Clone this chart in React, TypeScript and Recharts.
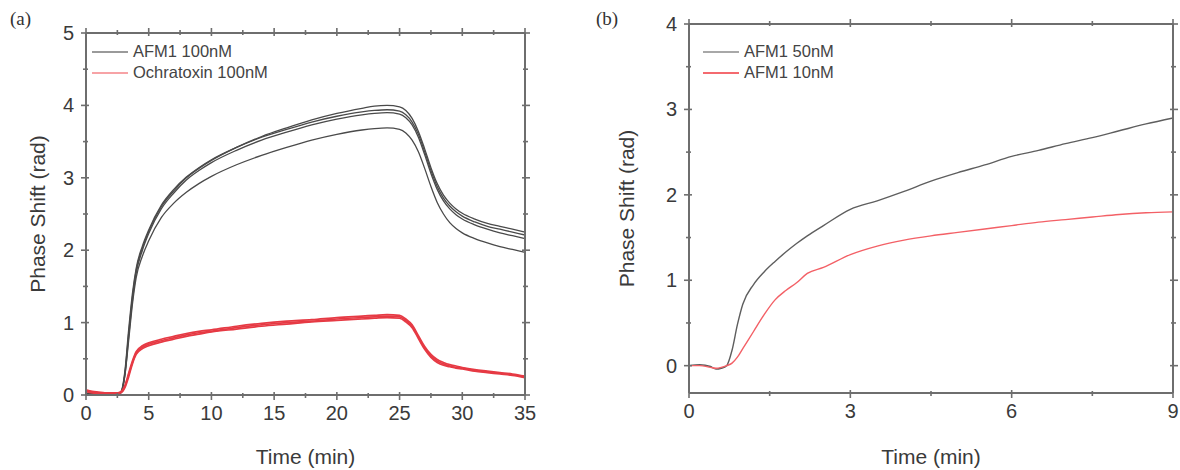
import React from 'react';
import { LineChart, Line, XAxis, YAxis, Legend } from 'recharts';

// panel (a): binding curves, 35 min run
const timeA = [0, 0.5, 1, 1.5, 2, 2.5, 2.8, 3.1, 3.4, 3.7, 4, 4.5, 5, 6, 7, 8, 9, 10, 12, 14, 16, 18, 20, 22, 23, 24, 25, 25.5, 26, 26.5, 27, 27.5, 28, 28.5, 29, 29.5, 30, 31, 32, 33, 34, 35];
const afmRun1 = [0.02, 0.02, 0.01, 0.01, 0.01, 0.01, 0.04, 0.3, 0.85, 1.35, 1.72, 2.03, 2.26, 2.6, 2.82, 3.0, 3.13, 3.24, 3.42, 3.57, 3.69, 3.8, 3.89, 3.96, 3.99, 4.0, 3.98, 3.93, 3.82, 3.64, 3.4, 3.14, 2.92, 2.76, 2.65, 2.57, 2.51, 2.43, 2.37, 2.33, 2.29, 2.25];
const afmRun2 = [0.03, 0.02, 0.02, 0.01, 0.01, 0.02, 0.05, 0.33, 0.9, 1.4, 1.75, 2.06, 2.28, 2.62, 2.84, 3.01, 3.14, 3.25, 3.42, 3.56, 3.67, 3.77, 3.85, 3.91, 3.93, 3.94, 3.92, 3.87, 3.77, 3.6, 3.36, 3.1, 2.88, 2.72, 2.61, 2.53, 2.47, 2.39, 2.33, 2.29, 2.25, 2.21];
const afmRun3 = [0.01, 0.01, 0.01, 0.01, 0.01, 0.01, 0.03, 0.27, 0.8, 1.3, 1.68, 2.0, 2.23, 2.57, 2.79, 2.97, 3.1, 3.21, 3.38, 3.52, 3.63, 3.73, 3.81, 3.87, 3.89, 3.9, 3.88, 3.83, 3.73, 3.56, 3.32, 3.06, 2.84, 2.68, 2.57, 2.49, 2.43, 2.35, 2.29, 2.24, 2.2, 2.16];
const afmRun4 = [0.02, 0.01, 0.01, 0.01, 0.01, 0.01, 0.04, 0.27, 0.75, 1.25, 1.62, 1.92, 2.13, 2.45, 2.65, 2.8, 2.92, 3.02, 3.18, 3.31, 3.42, 3.52, 3.6, 3.66, 3.68, 3.69, 3.67, 3.62, 3.52, 3.36, 3.13, 2.88, 2.66, 2.5, 2.38, 2.3, 2.24, 2.16, 2.1, 2.05, 2.01, 1.97];
const ochraRun1 = [0.06, 0.04, 0.03, 0.02, 0.02, 0.02, 0.04, 0.12, 0.28, 0.45, 0.58, 0.66, 0.7, 0.75, 0.79, 0.83, 0.86, 0.88, 0.93, 0.97, 1.0, 1.02, 1.05, 1.07, 1.08, 1.09, 1.08, 1.03, 0.95, 0.8, 0.65, 0.54, 0.47, 0.43, 0.4, 0.38, 0.37, 0.34, 0.32, 0.3, 0.28, 0.25];
const ochraRun2 = [0.05, 0.03, 0.02, 0.02, 0.01, 0.02, 0.03, 0.1, 0.25, 0.43, 0.56, 0.64, 0.68, 0.73, 0.77, 0.81, 0.84, 0.87, 0.91, 0.95, 0.98, 1.01, 1.03, 1.05, 1.06, 1.07, 1.06, 1.01, 0.93, 0.78, 0.63, 0.52, 0.45, 0.41, 0.39, 0.37, 0.36, 0.33, 0.31, 0.29, 0.27, 0.24];
const ochraRun3 = [0.07, 0.05, 0.04, 0.03, 0.03, 0.03, 0.05, 0.13, 0.3, 0.47, 0.6, 0.68, 0.72, 0.77, 0.81, 0.85, 0.88, 0.9, 0.95, 0.99, 1.02, 1.04, 1.07, 1.09, 1.1, 1.11, 1.1, 1.05, 0.97, 0.82, 0.67, 0.56, 0.49, 0.45, 0.42, 0.4, 0.38, 0.35, 0.33, 0.31, 0.29, 0.26];

const xMajorA = [0, 5, 10, 15, 20, 25, 30, 35];
const xMinorA = [2.5, 7.5, 12.5, 17.5, 22.5, 27.5, 32.5];
const yMajorA = [0, 1, 2, 3, 4, 5];
const yMinorA = [0.5, 1.5, 2.5, 3.5, 4.5];

// panel (b): two concentrations, 9 min run
const timeB = [0, 0.2, 0.4, 0.5, 0.6, 0.7, 0.8, 0.9, 1.0, 1.2, 1.4, 1.6, 1.8, 2.0, 2.2, 2.5, 3, 3.5, 4, 4.5, 5, 5.5, 6, 6.5, 7, 7.5, 8, 8.5, 9];
const afm50 = [0, 0.01, -0.01, -0.04, -0.03, 0.0, 0.18, 0.48, 0.72, 0.95, 1.1, 1.22, 1.33, 1.43, 1.52, 1.64, 1.83, 1.93, 2.04, 2.16, 2.26, 2.35, 2.45, 2.52, 2.6, 2.67, 2.75, 2.83, 2.9];
const afm10 = [0, 0.0, -0.02, -0.03, -0.02, 0.0, 0.03, 0.1, 0.2, 0.4, 0.6, 0.77, 0.88, 0.97, 1.08, 1.15, 1.3, 1.4, 1.47, 1.52, 1.56, 1.6, 1.64, 1.68, 1.71, 1.74, 1.77, 1.79, 1.8];

const xMajorB = [0, 3, 6, 9];
const xMinorB = [1.5, 4.5, 7.5];
const yMajorB = [0, 1, 2, 3, 4];
const yMinorB = [0.5, 1.5, 2.5, 3.5];

const dataA = timeA.map((t, i) => ({
  t,
  a1: afmRun1[i],
  a2: afmRun2[i],
  a3: afmRun3[i],
  a4: afmRun4[i],
  o1: ochraRun1[i],
  o2: ochraRun2[i],
  o3: ochraRun3[i],
}));

const dataB = timeB.map((t, i) => ({ t, c50: afm50[i], c10: afm10[i] }));

const FONT = '"Liberation Sans", Arial, sans-serif';
const AXIS = '#6e6e6e';
const TEXT = '#3a3a3a';

type Side = 'left' | 'bottom' | 'top' | 'right';

// crossing tick mark; numbers only on the left/bottom major ticks
const makeTick = (side: Side, majors: number[]) => (props: any) => {
  const { x, y, payload } = props;
  const v = payload.value;
  const major = majors.includes(v);
  const out = major ? 5 : 3;
  const inn = major ? 3 : 2;
  let p = { x1: x, x2: x, y1: y, y2: y };
  if (side === 'left') p = { x1: x - out, x2: x + inn, y1: y, y2: y };
  else if (side === 'right') p = { x1: x - inn, x2: x + out, y1: y, y2: y };
  else if (side === 'bottom') p = { x1: x, x2: x, y1: y - inn, y2: y + out };
  else p = { x1: x, x2: x, y1: y - out, y2: y + inn };
  return (
    <g>
      <line {...p} stroke={AXIS} strokeWidth={1.6} fill="none" />
      {major && side === 'left' && (
        <text x={x - 12} y={y} dy={7} textAnchor="end" fontSize={20} fontFamily={FONT} fill={TEXT}>
          {v}
        </text>
      )}
      {major && side === 'bottom' && (
        <text x={x} y={y + 25} textAnchor="middle" fontSize={20} fontFamily={FONT} fill={TEXT}>
          {v}
        </text>
      )}
    </g>
  );
};

const LegendBox = ({ items }: { items: { label: string; color: string }[] }) => (
  <div style={{ fontFamily: FONT, fontSize: 16.5, color: '#444' }}>
    {items.map((it) => (
      <div key={it.label} style={{ display: 'flex', alignItems: 'center', height: 21 }}>
        <div style={{ width: 36, height: 2, background: it.color, marginRight: 5 }} />
        <span>{it.label}</span>
      </div>
    ))}
  </div>
);

const axisLabelStyle = { fontFamily: FONT, fontSize: 21, fill: TEXT };

const frameAxis = {
  type: 'number' as const,
  interval: 0 as const,
  tickSize: 0,
  tickLine: false,
  tickMargin: 0,
  stroke: AXIS,
  strokeWidth: 2,
};

export default function App() {
  return (
    <div style={{ position: 'absolute', left: 0, top: 0, width: 1180, height: 470, background: '#fff' }}>
      <div style={{ position: 'absolute', left: 10, top: 8, fontFamily: '"Liberation Serif", serif', fontSize: 19, color: '#333' }}>(a)</div>
      <div style={{ position: 'absolute', left: 596, top: 8, fontFamily: '"Liberation Serif", serif', fontSize: 19, color: '#333' }}>(b)</div>

      <div style={{ position: 'absolute', left: 0, top: 0 }}>
        <LineChart width={560} height={470} data={dataA} margin={{ top: 32, right: 34, bottom: 0, left: 26 }}>
          <XAxis
            {...frameAxis}
            dataKey="t"
            domain={[0, 35]}
            ticks={[...xMajorA, ...xMinorA]}
            height={75}
            tick={makeTick('bottom', xMajorA)}
            label={{ value: 'Time (min)', position: 'insideBottom', offset: 6, style: axisLabelStyle }}
          />
          <XAxis
            {...frameAxis}
            xAxisId="top"
            orientation="top"
            dataKey="t"
            domain={[0, 35]}
            ticks={[...xMajorA, ...xMinorA]}
            height={1}
            tick={makeTick('top', xMajorA)}
          />
          <YAxis
            {...frameAxis}
            domain={[0, 5]}
            ticks={[...yMajorA, ...yMinorA]}
            width={60}
            tick={makeTick('left', yMajorA)}
            label={{ value: 'Phase Shift (rad)', angle: -90, position: 'insideLeft', offset: 12, style: { ...axisLabelStyle, textAnchor: 'middle' } }}
          />
          <YAxis
            {...frameAxis}
            yAxisId="right"
            orientation="right"
            domain={[0, 5]}
            ticks={[...yMajorA, ...yMinorA]}
            width={1}
            tick={makeTick('right', yMajorA)}
          />
          <Legend
            layout="vertical"
            align="center"
            verticalAlign="middle"
            wrapperStyle={{ left: 92, top: 41, width: 220 }}
            content={() => (
              <LegendBox
                items={[
                  { label: 'AFM1 100nM', color: '#9a9a9a' },
                  { label: 'Ochratoxin 100nM', color: '#f7a3a6' },
                ]}
              />
            )}
          />
          {/* invisible copy so the mirrored frame axes get drawn */}
          <Line xAxisId="top" yAxisId="right" dataKey="a1" stroke="none" dot={false} legendType="none" isAnimationActive={false} />
          <Line dataKey="a1" type="monotone" stroke="#4a4a4a" strokeWidth={1.3} dot={false} isAnimationActive={false} />
          <Line dataKey="a2" type="monotone" stroke="#4a4a4a" strokeWidth={1.3} dot={false} isAnimationActive={false} />
          <Line dataKey="a3" type="monotone" stroke="#4a4a4a" strokeWidth={1.3} dot={false} isAnimationActive={false} />
          <Line dataKey="a4" type="monotone" stroke="#4a4a4a" strokeWidth={1.3} dot={false} isAnimationActive={false} />
          <Line dataKey="o1" type="monotone" stroke="#e63a44" strokeWidth={1.7} dot={false} isAnimationActive={false} />
          <Line dataKey="o2" type="monotone" stroke="#e63a44" strokeWidth={1.7} dot={false} isAnimationActive={false} />
          <Line dataKey="o3" type="monotone" stroke="#e63a44" strokeWidth={1.7} dot={false} isAnimationActive={false} />
        </LineChart>
      </div>

      <div style={{ position: 'absolute', left: 580, top: 0 }}>
        <LineChart width={600} height={470} data={dataB} margin={{ top: 23, right: 6, bottom: 0, left: 39 }}>
          <XAxis
            {...frameAxis}
            dataKey="t"
            domain={[0, 9]}
            ticks={[...xMajorB, ...xMinorB]}
            height={77}
            tick={makeTick('bottom', xMajorB)}
            label={{ value: 'Time (min)', position: 'insideBottom', offset: 6, style: axisLabelStyle }}
          />
          <XAxis
            {...frameAxis}
            xAxisId="top"
            orientation="top"
            dataKey="t"
            domain={[0, 9]}
            ticks={[...xMajorB, ...xMinorB]}
            height={1}
            tick={makeTick('top', xMajorB)}
          />
          <YAxis
            {...frameAxis}
            domain={[-0.32, 4]}
            allowDataOverflow
            ticks={[...yMajorB, ...yMinorB]}
            width={70}
            tick={makeTick('left', yMajorB)}
            label={{ value: 'Phase Shift (rad)', angle: -90, position: 'insideLeft', offset: 8, style: { ...axisLabelStyle, textAnchor: 'middle' } }}
          />
          <YAxis
            {...frameAxis}
            yAxisId="right"
            orientation="right"
            domain={[-0.32, 4]}
            allowDataOverflow
            ticks={[...yMajorB, ...yMinorB]}
            width={1}
            tick={makeTick('right', yMajorB)}
          />
          <Legend
            layout="vertical"
            align="center"
            verticalAlign="middle"
            wrapperStyle={{ left: 123, top: 41, width: 220 }}
            content={() => (
              <LegendBox
                items={[
                  { label: 'AFM1 50nM', color: '#a8a8a8' },
                  { label: 'AFM1 10nM', color: '#f46a6f' },
                ]}
              />
            )}
          />
          <Line xAxisId="top" yAxisId="right" dataKey="c50" stroke="none" dot={false} legendType="none" isAnimationActive={false} />
          <Line dataKey="c50" type="monotone" stroke="#5e5e5e" strokeWidth={1.4} dot={false} isAnimationActive={false} />
          <Line dataKey="c10" type="monotone" stroke="#f36066" strokeWidth={1.4} dot={false} isAnimationActive={false} />
        </LineChart>
      </div>
    </div>
  );
}
